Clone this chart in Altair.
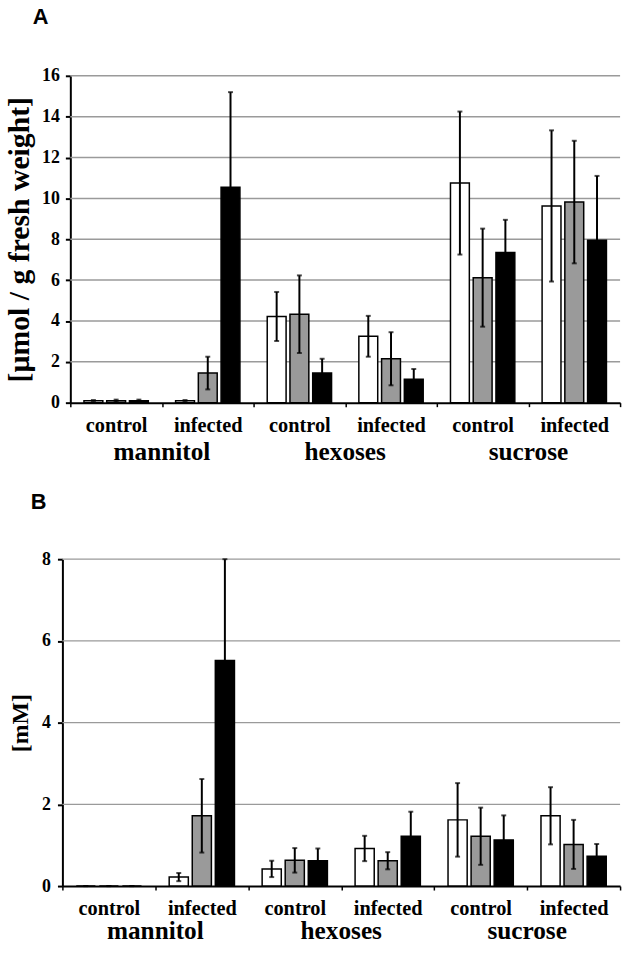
import altair as alt
import pandas as pd

compounds = ["mannitol", "hexoses", "sucrose"]
conditions = ["control", "infected"]
series = ["s1", "s2", "s3"]
fills = ["#ffffff", "#9a9a9a", "#000000"]

# Panel A: [µmol / g fresh weight]; rows = mannitol ctrl, mannitol inf, hexoses ctrl, hexoses inf, sucrose ctrl, sucrose inf
a_values = [
    [0.1, 0.1, 0.1],
    [0.1, 1.45, 10.55],
    [4.22, 4.33, 1.45],
    [3.25, 2.15, 1.15],
    [10.75, 6.12, 7.35],
    [9.63, 9.82, 7.95],
]
a_errors = [
    [0.03, 0.05, 0.05],
    [0.03, 0.8, 4.65],
    [1.2, 1.9, 0.7],
    [1.0, 1.3, 0.5],
    [3.5, 2.4, 1.6],
    [3.7, 3.0, 3.15],
]
a_ticks = [0, 2, 4, 6, 8, 10, 12, 14, 16]

# Panel B: [mM]
b_values = [
    [0.0, 0.0, 0.0],
    [0.22, 1.72, 5.52],
    [0.42, 0.63, 0.62],
    [0.92, 0.62, 1.22],
    [1.62, 1.22, 1.13],
    [1.72, 1.02, 0.73],
]
b_errors = [
    [0.0, 0.0, 0.0],
    [0.1, 0.9, 2.48],
    [0.2, 0.3, 0.3],
    [0.31, 0.21, 0.6],
    [0.9, 0.7, 0.6],
    [0.7, 0.6, 0.3],
]
b_ticks = [0, 2, 4, 6, 8]

keys = [f"{c}|{cond}" for c in compounds for cond in conditions]


def build(values, errors):
    rows = []
    for k, vals, errs in zip(keys, values, errors):
        for s, v, e in zip(series, vals, errs):
            rows.append(dict(key=k, series=s, value=v, lo=max(v - e, 0), hi=v + e))
    return pd.DataFrame(rows)


SERIF = "Liberation Serif"
WIDTH = 555


def panel(df, label, label_dx, ytitle, title_size, title_x, label_pad, ymax, ticks,
          shift, label_y, grid_w, title_offset):
    # shift: how far (px) the panel's y axis sits left of the shared plot origin
    xscale = alt.Scale(domain=keys, paddingInner=0, paddingOuter=0, range=[-shift, WIDTH])
    xaxis = alt.Axis(
        title=None,
        labelExpr="split(datum.label, '|')[1]",
        labelAngle=0,
        tickBand="extent",
        grid=False,
        domainColor="black",
        domainWidth=2,
        tickColor="black",
        tickWidth=1.5,
        tickSize=4,
        labelFont=SERIF,
        labelFontWeight="bold",
        labelFontSize=20.5,
        labelColor="black",
        labelPadding=9,
    )
    x = alt.X("key:N", sort=keys, scale=xscale, axis=xaxis)
    xo = alt.XOffset(
        "series:N",
        sort=series,
        scale=alt.Scale(domain=series, paddingInner=0.17, paddingOuter=0.6),
    )
    yaxis = alt.Axis(
        values=ticks,
        title=ytitle,
        offset=shift,
        grid=False,
        domainColor="black",
        domainWidth=2,
        tickColor="black",
        tickWidth=2,
        tickSize=5,
        labelFont=SERIF,
        labelFontWeight="bold",
        labelFontSize=18,
        labelColor="black",
        labelPadding=label_pad,
        titleFont=SERIF,
        titleFontWeight="bold",
        titleFontSize=title_size,
        titleColor="black",
        titleX=title_x,
    )
    yscale = alt.Scale(domain=[0, ymax], nice=False)
    y = alt.Y("value:Q", scale=yscale, axis=yaxis)

    # horizontal gridlines at the tick values, spanning the panel's band range
    gdf = pd.DataFrame({"value": ticks[1:]})
    grid = alt.Chart(gdf).mark_rule(color="#9a9a9a", strokeWidth=grid_w).encode(
        y=y, x=alt.value(-shift), x2=alt.value(WIDTH)
    )

    base = alt.Chart(df)
    bars = base.mark_bar(stroke="black", strokeWidth=1.5).encode(
        x=x,
        xOffset=xo,
        y=y,
        fill=alt.Fill("series:N", scale=alt.Scale(domain=series, range=fills), legend=None),
    )
    rules = base.mark_rule(color="black", strokeWidth=2).encode(
        x=x, xOffset=xo, y="lo:Q", y2="hi:Q"
    )
    caps_hi = base.mark_tick(color="black", thickness=2, size=5).encode(
        x=x, xOffset=xo, y="hi:Q"
    )
    caps_lo = base.mark_tick(color="black", thickness=2, size=5).encode(
        x=x, xOffset=xo, y="lo:Q"
    )
    cdf = pd.DataFrame({"key": [f"{c}|control" for c in compounds], "name": compounds})
    names = alt.Chart(cdf).mark_text(
        font=SERIF, fontWeight="bold", fontSize=25.5, baseline="alphabetic", color="black"
    ).encode(
        x=alt.X("key:N", sort=keys, scale=xscale, axis=xaxis, bandPosition=1),
        y=alt.value(label_y),
        text="name:N",
    )
    return alt.layer(grid, bars, rules, caps_hi, caps_lo, names).properties(
        width=WIDTH,
        height=330,
        title=alt.TitleParams(
            label,
            anchor="start",
            frame="group",
            dx=label_dx,
            offset=title_offset,
            font="Liberation Sans",
            fontSize=22,
            fontWeight="bold",
            color="black",
        ),
    )


chart_a = panel(build(a_values, a_errors), "A", -38, "[µmol / g fresh weight]", 30, -36, 6,
                16, a_ticks, 0, 388, 1.5, 38)
chart_b = panel(build(b_values, b_errors), "B", -40, "[mM]", 24, -30, 7,
                8, b_ticks, 8, 383, 1.2, 37)

chart = (
    alt.concat(chart_a, chart_b, columns=1, align="none", spacing=25)
    .resolve_scale(x="independent", y="independent", xOffset="independent")
    .properties(padding={"left": 5, "top": 2, "right": 1, "bottom": 0}, background="white")
    .configure_view(stroke=None)
)

chart.save("out.html", embed_options={"renderer": "svg", "actions": False})
